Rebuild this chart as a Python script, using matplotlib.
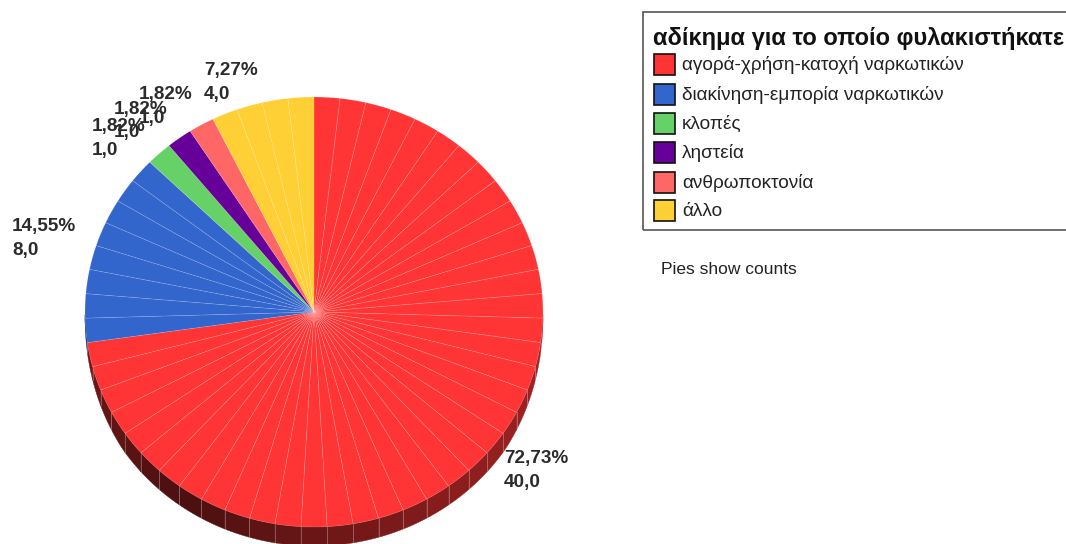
import numpy as np
import matplotlib
matplotlib.use("Agg")
import matplotlib.pyplot as plt
from matplotlib.colors import to_rgb
from matplotlib.patches import Rectangle

plt.rcParams['font.family'] = ['Liberation Sans', 'DejaVu Sans']

categories = ['αγορά-χρήση-κατοχή ναρκωτικών', 'διακίνηση-εμπορία ναρκωτικών', 'κλοπές',
              'ληστεία', 'ανθρωποκτονία', 'άλλο']
counts = [40, 8, 1, 1, 1, 4]
percent_labels = ['72,73%', '14,55%', '1,82%', '1,82%', '1,82%', '7,27%']
count_labels = ['40,0', '8,0', '1,0', '1,0', '1,0', '4,0']
colors = ['#FF3535', '#3366CC', '#66D166', '#660099', '#FF6666', '#FFD035']
legend_title = 'αδίκημα για το οποίο φυλακιστήκατε'
note = 'Pies show counts'

W, H = 1066, 544
CX, CY, RX, RY, DEPTH = 314, 312, 229, 215, 19

fig = plt.figure(figsize=(W / 100, H / 100), dpi=100)
ax = fig.add_axes([0, 0, 1, 1])

unit_values = np.ones(sum(counts))
unit_colors = np.repeat(colors, counts)
edge = (1, 1, 1, 0.16)
wedges, _ = ax.pie(unit_values, colors=list(unit_colors), startangle=90, counterclock=False,
                   radius=1, wedgeprops=dict(edgecolor=edge, linewidth=0.5, zorder=5))
ax.set_aspect('auto')
ax.set_xlim(-CX / RX, (W - CX) / RX)
ax.set_ylim((CY - H) / RY, CY / RY)
ax.set_axis_off()

# Side wall of the disc, one facet per unit, shaded by direction
d = DEPTH / RY
edges = 90 - 360 * np.arange(len(unit_values) + 1) / len(unit_values)
for i, col in enumerate(unit_colors):
    a0, a1 = edges[i], edges[i + 1]
    t = np.radians(np.linspace(a0, a1, 8))
    t = t[np.sin(t) <= 0.0]
    if len(t) < 2:
        continue
    xs = np.cos(t)
    ys = np.sin(t)
    mid = (a0 + a1) / 2
    depth = d * np.sqrt(np.clip(-np.sin(t) / 0.55, 0, 1))
    shade = 0.29 + 0.42 * abs(np.sin(np.radians(mid - 235) / 2))
    rgb = np.clip(np.array(to_rgb(col)) * shade, 0, 1)
    ax.fill(np.r_[xs, xs[::-1]], np.r_[ys, (ys - depth)[::-1]], color=rgb, lw=0.3, zorder=2)
    ax.plot([xs[0], xs[0]], [ys[0], ys[0] - depth[0]], color=(1, 1, 1, 0.28), lw=0.7, zorder=3)

def px(x, y):
    return x / W, 1 - y / H

# Data labels
label_pos = [(504, 458), (12, 227), (92, 126), (114, 109), (139, 95), (204, 71)]
for (x, y), p, c in zip(label_pos, percent_labels, count_labels):
    fig.text(*px(x, y), p, fontsize=13.6, fontweight='bold', color='#2b2b2b', va='center', ha='left', zorder=10)
    fig.text(*px(x, y + 24), c, fontsize=13.6, fontweight='bold', color='#2b2b2b', va='center', ha='left', zorder=10)

# Legend panel
fig.add_artist(Rectangle(px(643, 230), (W + 20 - 643) / W, 218 / H, transform=fig.transFigure,
                         fill=False, edgecolor='#555555', linewidth=1.2))
fig.text(*px(653, 38), legend_title, fontsize=17, fontweight='bold', color='#111111', va='center', ha='left')
rows = [64, 94, 123, 152, 182, 210]
for y, lab, col in zip(rows, categories, colors):
    fig.add_artist(Rectangle(px(653.5, y + 11), 21 / W, 21 / H, transform=fig.transFigure,
                             facecolor=col, edgecolor='#111111', linewidth=1.2))
    fig.text(*px(682, y + 1), lab, fontsize=13.7, color='#222222', va='center', ha='left')
fig.text(*px(661, 269), note, fontsize=12.5, color='#222222', va='center', ha='left')

fig.savefig('out.png', dpi=100)
